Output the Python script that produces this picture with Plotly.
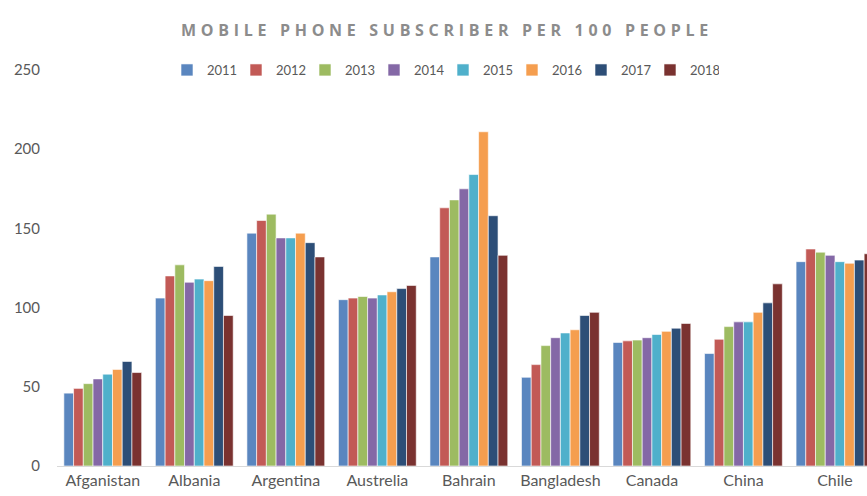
import plotly.graph_objects as go

countries = ["Afganistan", "Albania", "Argentina", "Austrelia", "Bahrain",
             "Bangladesh", "Canada", "China", "Chile"]
years = ["2011", "2012", "2013", "2014", "2015", "2016", "2017", "2018"]

v2011 = [46, 106, 147, 105, 132, 56, 78, 71, 129]
v2012 = [49, 120, 155, 106, 163, 64, 79, 80, 137]
v2013 = [52, 127, 159, 107, 168, 76, 79.5, 88, 135]
v2014 = [55, 116, 144, 106, 175, 81, 81, 91, 133]
v2015 = [58, 118, 144, 108, 184, 84, 83, 91, 129]
v2016 = [61, 117, 147, 110, 211, 86, 85, 97, 128]
v2017 = [66, 126, 141, 112, 158, 95, 87, 103, 130]
v2018 = [59, 95, 132, 114, 133, 97, 90, 115, 134]

series = [v2011, v2012, v2013, v2014, v2015, v2016, v2017, v2018]
colors = ["#5A86BF", "#C25A56", "#9DBB61", "#8468A6",
          "#4FB0CB", "#F59E4F", "#2D4E77", "#7A3230"]

fig = go.Figure()
for yr, vals, c in zip(years, series, colors):
    fig.add_trace(go.Bar(name=yr, x=countries, y=vals,
                         marker=dict(color=c, line=dict(color="white", width=0.6))))

fig.update_layout(
    width=867, height=496,
    margin=dict(l=57, r=0, t=70, b=30, autoexpand=False),
    paper_bgcolor="white", plot_bgcolor="white",
    barmode="group", bargap=0.15, bargroupgap=0,
    font=dict(family="Lato, Open Sans, sans-serif", size=15, color="#595959"),
    title=dict(
        text='<span style="letter-spacing:4.7px">MOBILE PHONE SUBSCRIBER PER 100 PEOPLE</span>',
        xref="container", x=447/867, xanchor="center",
        yref="container", y=1 - 30/496, yanchor="middle",
        font=dict(family="Open Sans, sans-serif", size=16, color="#8C8C8C", weight="bold"),
    ),
    legend=dict(
        orientation="h", xref="container", yref="container",
        x=443/867, xanchor="center", y=1 - 70/496, yanchor="middle",
        font=dict(size=13, color="#595959"),
        itemwidth=30, entrywidth=24, entrywidthmode="pixels",
        bgcolor="rgba(0,0,0,0)",
    ),
    showlegend=True,
)
fig.update_xaxes(range=[-0.5, 8.35], showline=True, linecolor="#D9D9D9", linewidth=1,
                 showgrid=False, ticks="", tickfont=dict(size=16, color="#595959"))
fig.update_yaxes(range=[0, 250], dtick=50, showgrid=False, zeroline=False,
                 showline=False, ticks="", ticklabelstandoff=16,
                 tickfont=dict(size=15, color="#595959"))

fig.write_html("out.html")
